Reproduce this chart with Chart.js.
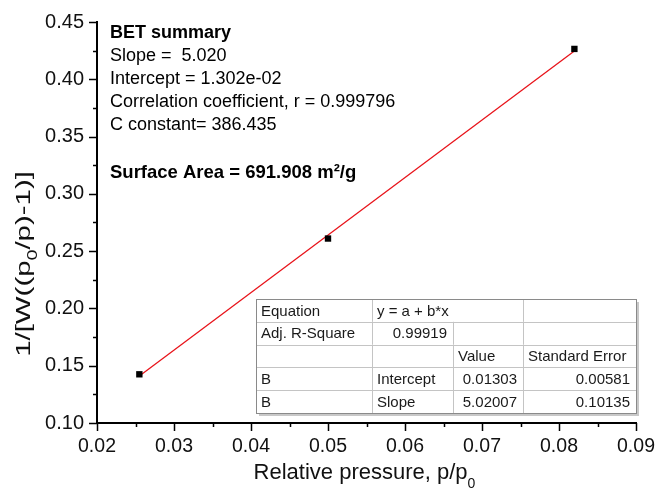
<!DOCTYPE html>
<html>
<head>
<meta charset="utf-8">
<script src="https://cdn.jsdelivr.net/npm/chart.js@4.4.1/dist/chart.umd.min.js"></script>
<style>
  html, body { margin: 0; padding: 0; background: #fff; }
  #wrap { width: 656px; height: 495px; }
</style>
</head>
<body>
<div id="wrap"><canvas id="bet" width="656" height="495"></canvas></div>
<script>
// BET plot data
const pressure = [0.0255, 0.0500, 0.0820];
const betY = [0.1425, 0.2610, 0.4265];

// linear fit result
const fitIntercept = 0.01303;
const fitSlope = 5.02007;

// summary text block
const summaryTitle = "BET summary";
const summaryLines = [
    "Slope =  5.020",
    "Intercept = 1.302e-02",
    "Correlation coefficient, r = 0.999796",
    "C constant= 386.435"
];
const surfaceArea = "Surface Area = 691.908 m\u00b2/g";

// fit table rows (null = merged with the cell on its left)
const tableRows = [
    ["Equation", "y = a + b*x", null, ""],
    ["Adj. R-Square", "0.99919", "", ""],
    ["", "", "Value", "Standard Error"],
    ["B", "Intercept", "0.01303", "0.00581"],
    ["B", "Slope", "5.02007", "0.10135"]
];

const xTicks = [0.02, 0.09, 0.01];
const yTicks = [0.10, 0.45, 0.05];

const FONT = "'Liberation Sans', Arial, sans-serif";

// fitted line through the ends of the data
let xFirst = pressure[0], xLast = pressure[pressure.length - 1];
let fitLine = [
    {x: xFirst, y: fitIntercept + fitSlope * xFirst},
    {x: xLast, y: fitIntercept + fitSlope * xLast}
];

function isNum(s) { return /^[0-9.\-]+$/.test(s); }

// draws text pieces [text, size, dy] one after another, centred on (0,0)
function drawParts(ctx, parts, stretch) {
    let total = 0;
    parts.forEach(p => { ctx.font = p[1] + "px " + FONT; total += ctx.measureText(p[0]).width; });
    ctx.scale(stretch, 1);
    let cx = -total / 2;
    parts.forEach(p => {
        ctx.font = p[1] + "px " + FONT;
        ctx.fillText(p[0], cx, p[2]);
        cx += ctx.measureText(p[0]).width;
    });
}

let decor = {
    id: "decor",
    afterDraw(chart) {
        let ctx = chart.ctx;
        let xs = chart.scales.x, ys = chart.scales.y;
        let area = chart.chartArea;
        ctx.save();

        // tick marks, major and minor, pointing out
        ctx.strokeStyle = "#000";
        ctx.lineWidth = 1.5;
        ctx.beginPath();
        for (let i = 0; i <= 14; i++) {
            let v = xTicks[0] + i * xTicks[2] / 2;
            let px = Math.round(xs.getPixelForValue(v)) + 0.5;
            let len = i % 2 == 0 ? 8 : 4;
            ctx.moveTo(px, area.bottom);
            ctx.lineTo(px, area.bottom + len);
        }
        for (let i = 0; i <= 14; i++) {
            let v = yTicks[0] + i * yTicks[2] / 2;
            let py = Math.round(ys.getPixelForValue(v)) + 0.5;
            let len = i % 2 == 0 ? 8 : 4;
            ctx.moveTo(area.left, py);
            ctx.lineTo(area.left - len, py);
        }
        ctx.stroke();

        // axis titles
        ctx.fillStyle = "#111";
        ctx.textBaseline = "alphabetic";
        ctx.textAlign = "left";
        ctx.save();
        ctx.translate((area.left + area.right) / 2 - 2, 479);
        drawParts(ctx, [["Relative pressure, p/p", 22, 0], ["0", 14, 9]], 1);
        ctx.restore();

        ctx.save();
        ctx.translate(30, 264);
        ctx.rotate(-Math.PI / 2);
        drawParts(ctx, [["1/[W((p", 21, 0], ["0", 14, 7], ["/p)-1)]", 21, 0]], 1.4);
        ctx.restore();

        // summary text
        ctx.fillStyle = "#000";
        ctx.font = "bold 18px " + FONT;
        ctx.fillText(summaryTitle, 110, 38);
        ctx.font = "18px " + FONT;
        summaryLines.forEach((s, i) => ctx.fillText(s, 110, 61 + i * 23));
        ctx.font = "bold 18.5px " + FONT;
        ctx.fillText(surfaceArea, 110, 178);

        // fit table
        let cols = [256, 372, 453, 523, 636];
        let top = 299, rowH = 22.8;
        let bottom = top + rowH * tableRows.length;
        ctx.fillStyle = "#c8c8c8";
        ctx.fillRect(cols[0] + 3, top + 3, cols[4] - cols[0], bottom - top);
        ctx.fillStyle = "#fff";
        ctx.fillRect(cols[0], top, cols[4] - cols[0], bottom - top);

        ctx.strokeStyle = "#c4c4c4";
        ctx.lineWidth = 1;
        ctx.beginPath();
        for (let r = 1; r < tableRows.length; r++) {
            let y = Math.round(top + r * rowH) + 0.5;
            ctx.moveTo(cols[0], y);
            ctx.lineTo(cols[4], y);
        }
        tableRows.forEach((row, r) => {
            let y0 = top + r * rowH, y1 = y0 + rowH;
            for (let c = 1; c < 4; c++) {
                if (row[c] === null) continue;
                let x = Math.round(cols[c]) + 0.5;
                ctx.moveTo(x, y0);
                ctx.lineTo(x, y1);
            }
        });
        ctx.stroke();
        ctx.strokeStyle = "#8a8a8a";
        ctx.strokeRect(cols[0] + 0.5, top + 0.5, cols[4] - cols[0], bottom - top);

        ctx.fillStyle = "#1a1a1a";
        ctx.font = "15px " + FONT;
        ctx.textBaseline = "middle";
        tableRows.forEach((row, r) => {
            let y = top + r * rowH + rowH / 2 + 1;
            row.forEach((cell, c) => {
                if (!cell) return;
                if (isNum(cell)) {
                    ctx.textAlign = "right";
                    ctx.fillText(cell, cols[c + 1] - 6, y);
                } else {
                    ctx.textAlign = "left";
                    ctx.fillText(cell, cols[c] + 5, y);
                }
            });
        });
        ctx.restore();
    }
};

new Chart(document.getElementById("bet"), {
    type: "scatter",
    data: {
        datasets: [
            {
                label: "Fit",
                type: "line",
                data: fitLine,
                borderColor: "#e8141b",
                borderWidth: 1.3,
                pointRadius: 0,
                fill: false,
                order: 2
            },
            {
                label: "BET",
                data: pressure.map((p, i) => ({x: p, y: betY[i]})),
                pointStyle: "rect",
                pointRadius: 4.5,
                backgroundColor: "#000",
                borderColor: "#000",
                borderWidth: 0,
                order: 1
            }
        ]
    },
    options: {
        responsive: false,
        animation: false,
        layout: { padding: { top: 22, right: 20, left: 0, bottom: 0 } },
        plugins: { legend: { display: false }, tooltip: { enabled: false } },
        scales: {
            x: {
                type: "linear",
                min: xTicks[0], max: xTicks[1],
                afterFit: s => { s.height = 72; s.paddingRight = 20; s.paddingLeft = 0; },
                ticks: {
                    stepSize: xTicks[2],
                    padding: 4,
                    color: "#111",
                    font: { family: FONT, size: 19.5 },
                    callback: v => v.toFixed(2)
                },
                grid: { display: false },
                border: { display: true, color: "#000", width: 2 }
            },
            y: {
                min: yTicks[0], max: yTicks[1],
                afterFit: s => { s.width = 97; s.paddingTop = 0; s.paddingBottom = 0; },
                ticks: {
                    stepSize: yTicks[2],
                    padding: 5,
                    color: "#111",
                    font: { family: FONT, size: 20 },
                    callback: v => v.toFixed(2)
                },
                grid: { display: false },
                border: { display: true, color: "#000", width: 2 }
            }
        }
    },
    plugins: [decor]
});
</script>
</body>
</html>
